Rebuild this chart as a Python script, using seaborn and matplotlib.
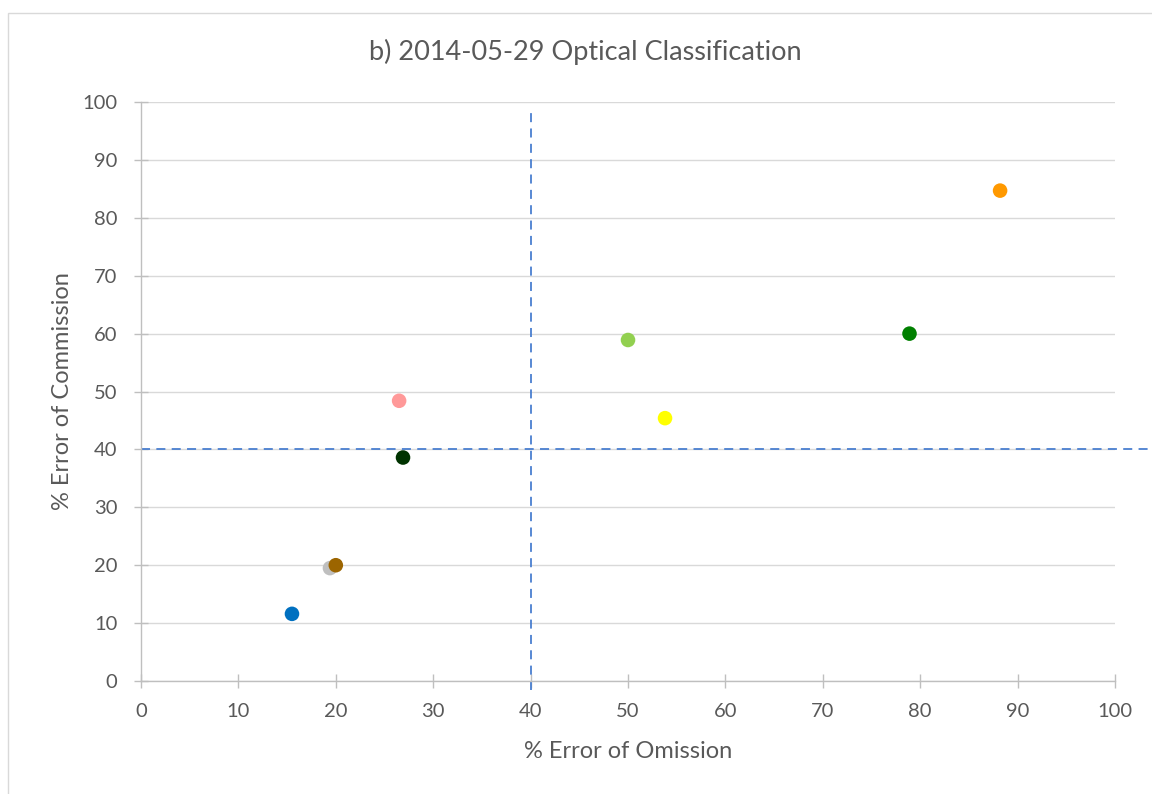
import matplotlib
matplotlib.use("Agg")
import matplotlib.pyplot as plt
import seaborn as sns
import pandas as pd
from matplotlib.patches import Rectangle

# Per-class accuracy figures
classes = ["C1", "C2", "C3", "C4", "C5", "C6", "C7", "C8", "C9"]
omission = [15.5, 19.4, 20.0, 26.5, 26.9, 50.0, 53.8, 78.9, 88.2]
commission = [11.6, 19.5, 20.0, 48.4, 38.6, 58.9, 45.4, 60.0, 84.7]
colors = ["#0070C0", "#BFBFBF", "#9C6500", "#FF9999", "#003300",
          "#92D050", "#FFFF00", "#008000", "#FF9900"]

threshold_x = 40
threshold_y = 40

ticks = list(range(0, 101, 10))

df = pd.DataFrame({"cls": classes, "om": omission, "com": commission})

sns.set_theme(style="white")
plt.rcParams["font.family"] = ["Lato", "DejaVu Sans"]

fig = plt.figure(figsize=(11.52, 7.94), dpi=100)
ax = fig.add_axes([0.1224, 0.1423, 0.8455, 0.7292])

# light outer chart border
fig.patches.append(Rectangle((8 / 1152, -0.01), 1.2, 1 - 13 / 794 + 0.01,
                             transform=fig.transFigure, fill=False,
                             edgecolor="#D9D9D9", linewidth=1.0))

ax.set_xlim(0, 100)
ax.set_ylim(0, 100)
ax.set_xticks(ticks)
ax.set_yticks(ticks)
ax.grid(axis="y", color="#D9D9D9", linewidth=1.0)
ax.grid(axis="x", visible=False)
ax.set_axisbelow(True)

for side in ["top", "right"]:
    ax.spines[side].set_visible(False)
for side in ["left", "bottom"]:
    ax.spines[side].set_color("#BFBFBF")
    ax.spines[side].set_linewidth(1.0)

ax.tick_params(axis="both", direction="inout", length=10, width=1.0,
               color="#BFBFBF", labelcolor="#595959", labelsize=14.5,
               left=True, bottom=True)
ax.tick_params(axis="x", pad=11)
ax.tick_params(axis="y", pad=12)

# threshold lines
dash = (0, (5, 3.5))
ax.plot([threshold_x, threshold_x], [-1.6, 98.1], color="#4A7FD0",
        linewidth=1.3, linestyle=dash, clip_on=False, zorder=2)
ax.plot([0, 103.6], [threshold_y, threshold_y], color="#4A7FD0",
        linewidth=1.3, linestyle=dash, clip_on=False, zorder=2)

sns.scatterplot(data=df, x="om", y="com", hue="cls", palette=colors,
                s=110, edgecolor="none", legend=False, ax=ax, zorder=3,
                clip_on=False)

ax.set_xlabel("% Error of Omission", color="#595959", fontsize=17, labelpad=15)
ax.set_ylabel("% Error of Commission", color="#595959", fontsize=17, labelpad=7)

fig.text(585 / 1152, 1 - 52 / 794, "b) 2014-05-29 Optical Classification",
         ha="center", va="center", color="#595959", fontsize=19.5)

fig.savefig("out.png", dpi=100, facecolor="white")
